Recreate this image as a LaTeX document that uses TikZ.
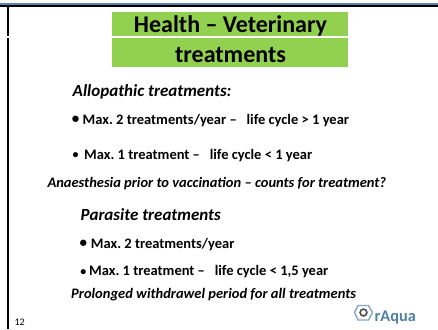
\documentclass[tikz,border=0pt]{standalone}
\usepackage{fontspec}
\setmainfont{Carlito}
\definecolor{titlegreen}{HTML}{92D050}
\definecolor{topblue}{HTML}{5B84B5}
\definecolor{logoblue}{HTML}{4F81A8}
\tikzset{
  bodytext/.style={anchor=base west,inner sep=0pt,font=\fontsize{14.5}{16}\selectfont\bfseries\frenchspacing},
  headtext/.style={anchor=base west,inner sep=0pt,font=\fontsize{17}{20}\selectfont\bfseries\itshape},
  notetext/.style={anchor=base west,inner sep=0pt,font=\fontsize{14.5}{16}\selectfont\bfseries\itshape},
  bullettext/.style={anchor=base,inner sep=0pt,font=\fontsize{15}{16}\selectfont\bfseries},
  smallbullet/.style={anchor=base,inner sep=0pt,font=\fontsize{12}{14}\selectfont\bfseries},
  titlebar/.style={fill=titlegreen,draw=none,minimum width=236pt,inner sep=0pt},
  titletext/.style={inner sep=0pt,anchor=base,font=\fontsize{24}{28}\selectfont\bfseries}
}
\begin{document}
\begin{tikzpicture}[x=1pt,y=-1pt]
\useasboundingbox[fill=white] (0,0) rectangle (438,329);
\fill[topblue] (0,3.4) rectangle (438,5);
\fill[black] (0,5) rectangle (438,6.8);
\fill[black] (7.2,5) rectangle (9,35.6);
\fill[black] (7.2,37.8) rectangle (9,329);
\node[titlebar,minimum height=23.7pt,anchor=north west] (t1) at (112,12) {};
\node[titlebar,minimum height=28.4pt,anchor=north west] (t2) at (112,38.3) {};
\node[titletext] (t1t) at (230.5,33) {Health – Veterinary};
\node[titletext] (t2t) at (230.5,62) {treatments};
\node[headtext] (a) at (72.5,96) {Allopathic treatments:};
\node[bullettext] (b1) at (75.7,123.5) {•};
\node[bodytext] (l1) at (82.5,124) {Max. 2 treatments/year –\ \ \ life cycle > 1 year};
\node[smallbullet] (b2) at (75.7,158.5) {•};
\node[bodytext] (l2) at (84,159) {Max. 1 treatment –\ \ \ life cycle < 1 year};
\node[notetext] (n1) at (47.3,187.7) {Anaesthesia prior to vaccination – counts for treatment?};
\node[headtext] (p) at (80.5,220) {Parasite treatments};
\node[bullettext] (b3) at (83.3,247.5) {•};
\node[bodytext] (l3) at (90.7,248) {Max. 2 treatments/year};
\node[smallbullet] (b4) at (83.3,275) {•};
\node[bodytext] (l4) at (89,275.7) {Max. 1 treatment –\ \ \ life cycle < 1,5 year};
\node[notetext] (n2) at (71,298.3) {Prolonged withdrawel period for all treatments};
\node[inner sep=0pt,anchor=base west,font=\fontsize{10}{12}\selectfont] (num) at (14.3,325.7) {12};
\node[inner sep=0pt,anchor=base west,text=logoblue,font=\fontsize{16.3}{18}\selectfont\bfseries] (logo) at (374.5,321.7) {rAqua};
\draw[logoblue!70,line width=1.4pt,line join=round] (358,305.5) -- (368.5,305.5) -- (372.5,312.5) -- (368.5,320) -- (358,320) -- (354.5,312.5) -- cycle;
\fill[white] (363.5,312.5) circle (5.5pt);
\draw[black!70,line width=1.6pt] (363.5,312.5) circle (3.4pt);
\end{tikzpicture}
\end{document}
